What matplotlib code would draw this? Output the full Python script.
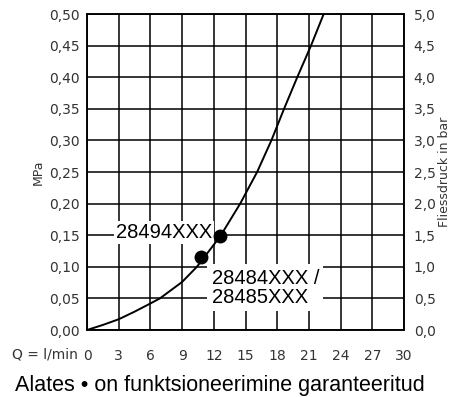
import matplotlib.pyplot as plt
import numpy as np

# curve (Q in l/min, pressure in MPa)
flow = [0, 1.5, 3, 4.5, 6, 6.9, 9, 10.4, 12.6, 14.5, 16.1, 17.45, 18.65, 19.9, 21.2, 22.4]
pressure = [0, 0.008, 0.017, 0.029, 0.042, 0.05, 0.076, 0.10, 0.148, 0.20, 0.25, 0.30, 0.35, 0.40, 0.45, 0.50]

# marked points
dot_flow = [10.8, 12.6]
dot_pressure = [0.115, 0.148]

x_ticks = [0, 3, 6, 9, 12, 15, 18, 21, 24, 27, 30]
mpa_ticks = [0.00, 0.05, 0.10, 0.15, 0.20, 0.25, 0.30, 0.35, 0.40, 0.45, 0.50]
bar_ticks = [0.0, 0.5, 1.0, 1.5, 2.0, 2.5, 3.0, 3.5, 4.0, 4.5, 5.0]

tick_color = '#333333'

fig = plt.figure(figsize=(4.58, 3.97), dpi=100)
ax1 = fig.add_axes([87/458, 67/397, 317/458, 316/397])

ax1.set_xlim(0, 30)
ax1.set_ylim(0, 0.5)
ax1.set_xticks(x_ticks)
ax1.set_yticks(mpa_ticks)
ax1.set_xticklabels([str(t) for t in x_ticks])
ax1.set_yticklabels([('%.2f' % t).replace('.', ',') for t in mpa_ticks])
ax1.grid(True, color='black', linewidth=1.1)
ax1.set_axisbelow(True)
ax1.tick_params(axis='x', length=0, pad=14, labelsize=10, labelcolor=tick_color)
ax1.tick_params(axis='y', length=0, pad=5, labelsize=10, labelcolor=tick_color)
for s in ax1.spines.values():
    s.set_linewidth(1.1)

ax1.plot(flow, pressure, color='black', linewidth=1.4, zorder=3)
ax1.plot(dot_flow, dot_pressure, 'o', color='black', markersize=9, zorder=4)

ax1.text(11.85, 0.155, '28494XXX', ha='right', va='center', fontsize=14.5,
         family='Liberation Sans', zorder=2,
         bbox=dict(facecolor='white', edgecolor='none', pad=1.5))
ax1.text(11.8, 0.067, '28484XXX /\n28485XXX', ha='left', va='center', fontsize=14.5,
         family='Liberation Sans', linespacing=1.0, zorder=2,
         bbox=dict(facecolor='white', edgecolor='none', pad=3))

ax1.set_ylabel('MPa', fontsize=9, color=tick_color, labelpad=3)

ax2 = ax1.twinx()
ax2.set_ylim(0, 5)
ax2.set_yticks(bar_ticks)
ax2.set_yticklabels([('%.1f' % t).replace('.', ',') for t in bar_ticks])
ax2.tick_params(axis='y', length=0, pad=7, labelsize=10, labelcolor=tick_color)
ax2.set_ylabel('Fliessdruck in bar', fontsize=9, color=tick_color, labelpad=2)
for s in ax2.spines.values():
    s.set_linewidth(1.1)

fig.text(78/458, 1 - 355/397, 'Q = l/min', ha='right', va='center',
         fontsize=10, color=tick_color)
fig.text(15/458, 1 - 385/397, 'Alates \u2022 on funktsioneerimine garanteeritud',
         ha='left', va='center', fontsize=15.5, family='Liberation Sans')

fig.savefig('out.png', dpi=100)
